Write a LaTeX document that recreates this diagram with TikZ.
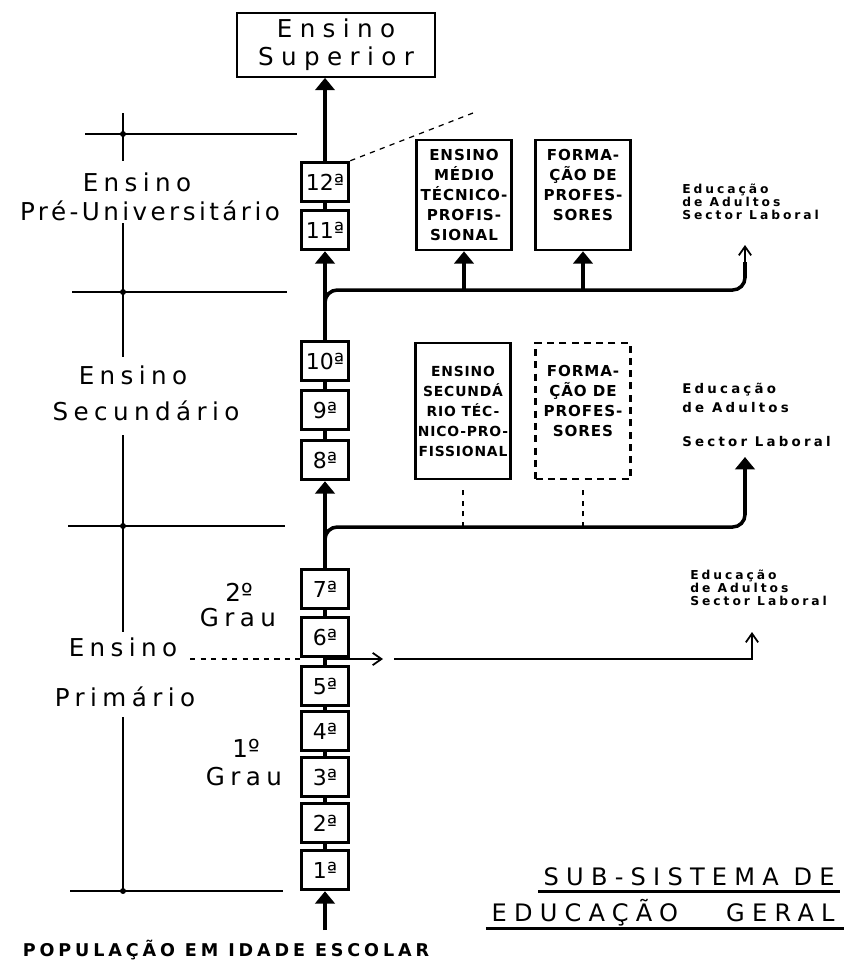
\documentclass[tikz,border=0pt]{standalone}
\usepackage{fontspec}
\setmainfont{DejaVu Sans}
\newfontfamily\handfont[LetterSpace=22]{DejaVu Sans}
\newfontfamily\boxfont[LetterSpace=6]{DejaVu Sans}
\newfontfamily\notefont[LetterSpace=24]{DejaVu Sans}
\newfontfamily\widefont[LetterSpace=30]{DejaVu Sans}
\usetikzlibrary{arrows.meta}

\tikzset{
  grade/.style={draw, line width=2pt, minimum width=0.94cm, minimum height=0.78cm,
    inner sep=0pt, font=\fontsize{12.5}{12.5}\selectfont},
  spine/.style={line width=2.6pt},
  link/.style={line width=2pt},
  rail/.style={line width=2pt},
  bigtip/.style={-{Triangle[width=11pt,length=7pt]}},
  opentip/.style={-{Straight Barb[width=7pt,length=5pt]}},
  course/.style={draw, line width=1.5pt, minimum width=1.9cm, minimum height=2.2cm,
    inner sep=0pt, align=center, font=\boxfont\bfseries\fontsize{8.6}{11.4}\selectfont},
  stage/.style={inner sep=0pt, font=\handfont\fontsize{14}{14}\selectfont},
  adultnote/.style={anchor=west, align=left, inner sep=0pt,
    font=\notefont\bfseries\fontsize{7}{7.4}\selectfont},
  scaleline/.style={line width=1pt},
  uline/.style={line width=1.6pt},
}

\begin{document}
\begin{tikzpicture}[x=0.02cm, y=-0.02cm]
  \useasboundingbox (0,0) rectangle (847,965);

  % Ensino Superior
  \node[draw, line width=1.2pt, minimum width=3.96cm, minimum height=1.22cm, align=center,
    font=\widefont\fontsize{14}{16}\selectfont] (sup) at (336,45) {Ensino\\Superior};

  % grade boxes
  \foreach \n/\y in {1/870,2/823,3/777,4/731,5/686,6/637,7/589,8/460,9/410,10/361,11/230,12/182}
    \node[grade] (g\n) at (325,\y) {{\n}ª};

  % main line
  \draw[spine, bigtip] (g12) -- (g12 |- sup.south);
  \draw[link] (g12) -- (g11);
  \draw[spine, bigtip] (g10) -- (g11);
  \draw[link] (g10) -- (g9);
  \draw[link] (g9) -- (g8);
  \draw[spine, bigtip] (g7) -- (g8);
  \foreach \a/\b in {7/6,6/5,5/4,4/3,3/2,2/1}
    \draw[link] (g\a) -- (g\b);
  \coordinate (pop) at (325,930);
  \draw[spine, bigtip] (pop) -- (g1);

  % upper courses
  \node[course] (medio1) at (464,195) {ENSINO\\MÉDIO\\TÉCNICO-\\PROFIS-\\SIONAL};
  \node[course] (prof1) at (583,195) {FORMA-\\ÇÃO DE\\PROFES-\\SORES\\\mbox{}};
  \coordinate (fork1) at (325,306);
  \coordinate (rail1) at (745,290);
  \coordinate (adult1) at (745,262);
  \coordinate (adulttip1) at (745,245);
  \draw[rail, rounded corners=7] (fork1) |- (rail1) -- (adult1);
  \draw[rail, bigtip] (medio1.south |- rail1) -- (medio1.south);
  \draw[rail, bigtip] (prof1.south |- rail1) -- (prof1.south);
  \draw[line width=1pt, opentip] (adult1) -- (adulttip1);
  \node[adultnote] (ed1) at (682,202) {Educação\\de Adultos\\Sector Laboral};

  % pencil line
  \coordinate (sketch) at (473,113);
  \draw[dashed, line width=0.7pt] (g12.north east) -- (sketch);

  % middle courses
  \node[course, minimum height=2.72cm, font=\boxfont\bfseries\fontsize{7.9}{11.4}\selectfont] (medio2) at (463,411) {ENSINO\\SECUNDÁ\\RIO TÉC-\\NICO-PRO-\\FISSIONAL};
  \node[course, minimum height=2.72cm, dash pattern=on 4pt off 3pt] (prof2) at (583,411) {FORMA-\\ÇÃO DE\\PROFES-\\SORES\\\mbox{}};
  \coordinate (fork2) at (325,541);
  \coordinate (rail2) at (745,527);
  \coordinate (adult2) at (745,457);
  \draw[rail, rounded corners=7, bigtip] (fork2) |- (rail2) -- (adult2);
  \draw[dashed, line width=1pt, shorten >=4pt] (medio2.south |- rail2) -- (medio2.south);
  \draw[dashed, line width=1pt, shorten >=4pt] (prof2.south |- rail2) -- (prof2.south);
  \node[adultnote, font=\notefont\bfseries\fontsize{7.6}{10.8}\selectfont] (ed2) at (682,415)
    {Educação\\de Adultos\\[9pt]Sector Laboral};

  % lower exit
  \coordinate (prim1) at (190,659);
  \coordinate (out3) at (383,659);
  \coordinate (rail3) at (394,659);
  \coordinate (adult3) at (752,632);
  \draw[dashed, line width=0.8pt] (prim1) -- (g6.west |- prim1);
  \draw[line width=1pt, opentip] (g6.south |- out3) -- (out3);
  \draw[line width=1pt, opentip] (rail3) -| (adult3);
  \node[adultnote] (ed3) at (690,588) {Educação\\de Adultos\\Sector Laboral};

  % scale of levels
  \draw[scaleline] (123,113) -- (123,161);
  \draw[scaleline] (123,223) -- (123,357);
  \draw[scaleline] (123,435) -- (123,632);
  \draw[scaleline] (123,717) -- (123,891);
  \draw[scaleline] (85,134) -- (297,134);
  \draw[scaleline] (72,292) -- (287,292);
  \draw[scaleline] (68,526) -- (285,526);
  \draw[scaleline] (70,891) -- (283,891);
  \foreach \y in {134,292,526,891}
    \fill (123,\y) circle[radius=1.7pt];

  % labels
  \node[stage] (preA) at (137,182) {Ensino};
  \node[stage, font=\handfont\fontsize{14}{14}\selectfont\addfontfeature{LetterSpace=14}] (preB) at (150,211) {Pré-Universitário};
  \node[stage] (secA) at (133,375) {Ensino};
  \node[stage] (secB) at (146,411) {Secundário};
  \node[stage] (primA) at (123,647) {Ensino};
  \node[stage] (primB) at (125,697) {Primário};
  \node[stage, font=\fontsize{14}{14}\selectfont] (deg2) at (239,592) {2º};
  \node[stage] (deg2b) at (238,618) {Grau};
  \node[stage, font=\fontsize{14}{14}\selectfont] (deg1) at (246,748) {1º};
  \node[stage] (deg1b) at (244,777) {Grau};
  \node[inner sep=0pt, font=\handfont\bfseries\fontsize{10}{10}\selectfont] (popl) at (226,950) {POPULAÇÃO EM IDADE ESCOLAR};

  % title
  \node[anchor=east, inner sep=0pt, text depth=0pt, font=\widefont\fontsize{13.7}{14}\selectfont] (title1) at (835,877) {SUB-SISTEMA DE};
  \node[anchor=east, inner sep=0pt, text depth=0pt, font=\widefont\fontsize{13.7}{14}\selectfont] (title2) at (835,910) {EDUCAÇÃO\qquad GERAL};
  \draw[uline] ([xshift=-3pt, yshift=-3pt]title1.south west) -- ([xshift=3pt, yshift=-3pt]title1.south east);
  \draw[uline] ([xshift=-3pt, yshift=-4pt]title2.south west) -- ([xshift=5pt, yshift=-4pt]title2.south east);
\end{tikzpicture}
\end{document}
